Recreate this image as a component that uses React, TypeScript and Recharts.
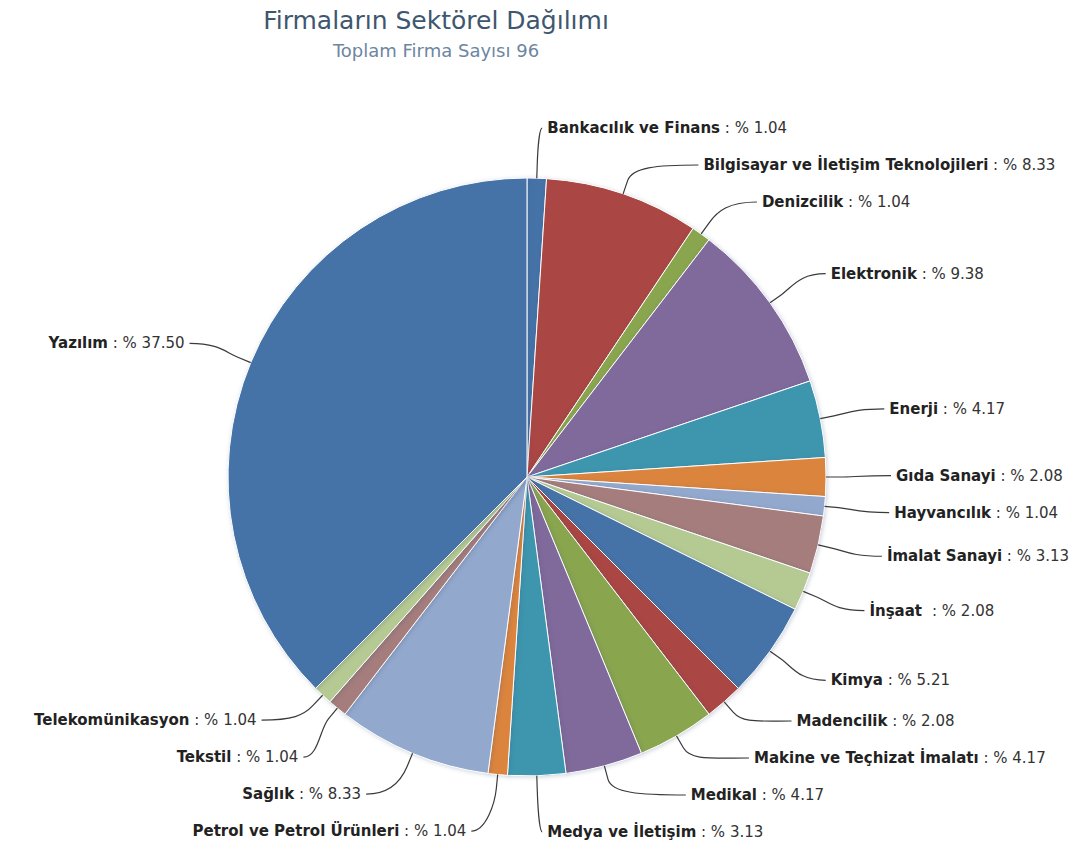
import { Cell, Pie, PieChart } from 'recharts';

const sectors = [
  'Bankacılık ve Finans',
  'Bilgisayar ve İletişim Teknolojileri',
  'Denizcilik',
  'Elektronik',
  'Enerji',
  'Gıda Sanayi',
  'Hayvancılık',
  'İmalat Sanayi',
  'İnşaat ',
  'Kimya',
  'Madencilik',
  'Makine ve Teçhizat İmalatı',
  'Medikal',
  'Medya ve İletişim',
  'Petrol ve Petrol Ürünleri',
  'Sağlık',
  'Tekstil',
  'Telekomünikasyon',
  'Yazılım'
];
const firmCounts = [1, 8, 1, 9, 4, 2, 1, 3, 2, 5, 2, 4, 4, 3, 1, 8, 1, 1, 36];
const palette = ['#4572A7', '#AA4643', '#89A54E', '#80699B', '#3D96AE', '#DB843D', '#92A8CD', '#A47D7C', '#B5CA92'];

const total = firmCounts.reduce((a, b) => a + b, 0);
const data = sectors.map((name, i) => ({ name, value: firmCounts[i] }));

const W = 1075;
const H = 848;
const CX = 527;
const CY = 477;
const R = 299;
const LABEL_R = R + 50;
const GAP = 37;
const RAD = Math.PI / 180;
const FONT = '"DejaVu Sans", Verdana, sans-serif';

// highcharts-like label distribution: push labels apart on each side
function layoutLabels(): number[] {
  let acc = 0;
  const items = firmCounts.map((v, i) => {
    const theta = ((acc + v / 2) / total) * 360;
    acc += v;
    return { i, right: theta < 180, y: CY - LABEL_R * Math.cos(theta * RAD) };
  });
  const minY = CY - LABEL_R;
  const maxY = CY + LABEL_R + 6;
  [true, false].forEach((side) => {
    const list = items.filter((it) => it.right === side).sort((a, b) => a.y - b.y);
    for (let iter = 0; iter < 400; iter++) {
      for (let k = 0; k < list.length - 1; k++) {
        const d = list[k + 1].y - list[k].y;
        if (d < GAP) {
          const s = (GAP - d) / 2;
          list[k].y -= s;
          list[k + 1].y += s;
        }
      }
      list.forEach((it) => {
        it.y = Math.min(maxY, Math.max(minY, it.y));
      });
    }
  });
  const ys: number[] = [];
  items.forEach((it) => (ys[it.i] = it.y));
  return ys;
}

const labelY = layoutLabels();

function renderLabel(props: any) {
  const { cx, cy, midAngle, outerRadius, index } = props;
  const a = -midAngle * RAD;
  const cos = Math.cos(a);
  const sin = Math.sin(a);
  const right = (90 - midAngle + 720) % 360 < 180;
  const y = labelY[index];
  const dy = y - cy;
  const half = Math.sqrt(Math.max(0, LABEL_R * LABEL_R - dy * dy));
  const ex = cx + outerRadius * cos;
  const ey = cy + outerRadius * sin;
  const bx = cx + (outerRadius + 14) * cos;
  const by = cy + (outerRadius + 14) * sin;
  const c2x = cx + (outerRadius + 28) * cos;
  const c2y = cy + (outerRadius + 28) * sin;
  // keep the label clear of its own connector near the bottom
  const tx = right ? Math.max(cx + half + 20, bx + 10) : Math.min(cx - half - 20, bx - 30);
  const sx = right ? tx - 5 : tx + 5;
  const c1x = sx + (bx - sx) * 0.6;
  const path = `M${sx},${y} C${c1x},${y} ${c2x},${c2y} ${bx},${by} L${ex},${ey}`;
  const pct = ((firmCounts[index] / total) * 100).toFixed(2);
  return (
    <g key={`lbl-${index}`}>
      <path d={path} fill='none' stroke='#3a3a3a' strokeWidth={1.2} />
      <text
        x={tx}
        y={y}
        dy={5}
        textAnchor={right ? 'start' : 'end'}
        fontFamily={FONT}
        fontSize={15}
        fill='#222'
        style={{ whiteSpace: 'pre' }}
      >
        <tspan fontWeight='bold'>{sectors[index]}</tspan>
        <tspan fill='#333'>{` : % ${pct}`}</tspan>
      </text>
    </g>
  );
}

export default function App() {
  return (
    <div style={{ position: 'absolute', left: 0, top: 0, width: W, height: H, background: '#fff' }}>
      <div
        style={{
          position: 'absolute',
          left: 0,
          top: 6,
          width: 872,
          textAlign: 'center',
          fontFamily: FONT,
          fontSize: 25,
          color: '#3E576F'
        }}
      >
        Firmaların Sektörel Dağılımı
      </div>
      <div
        style={{
          position: 'absolute',
          left: 0,
          top: 40,
          width: 872,
          textAlign: 'center',
          fontFamily: FONT,
          fontSize: 18,
          color: '#6D869F'
        }}
      >
        Toplam Firma Sayısı 96
      </div>
      <PieChart
        width={W}
        height={H}
        margin={{ top: 0, right: 0, bottom: 0, left: 0 }}
        style={{ position: 'absolute', left: 0, top: 0 }}
      >
        <Pie
          data={data}
          dataKey='value'
          nameKey='name'
          cx={CX}
          cy={CY}
          outerRadius={R}
          startAngle={90}
          endAngle={-270}
          stroke='#fff'
          strokeWidth={1}
          label={renderLabel}
          labelLine={false}
          isAnimationActive={false}
        >
          {data.map((d, i) => (
            <Cell
              key={d.name}
              fill={palette[i % palette.length]}
              style={{ filter: 'drop-shadow(1px 1px 2px rgba(60,80,120,0.25))' }}
            />
          ))}
        </Pie>
      </PieChart>
    </div>
  );
}
